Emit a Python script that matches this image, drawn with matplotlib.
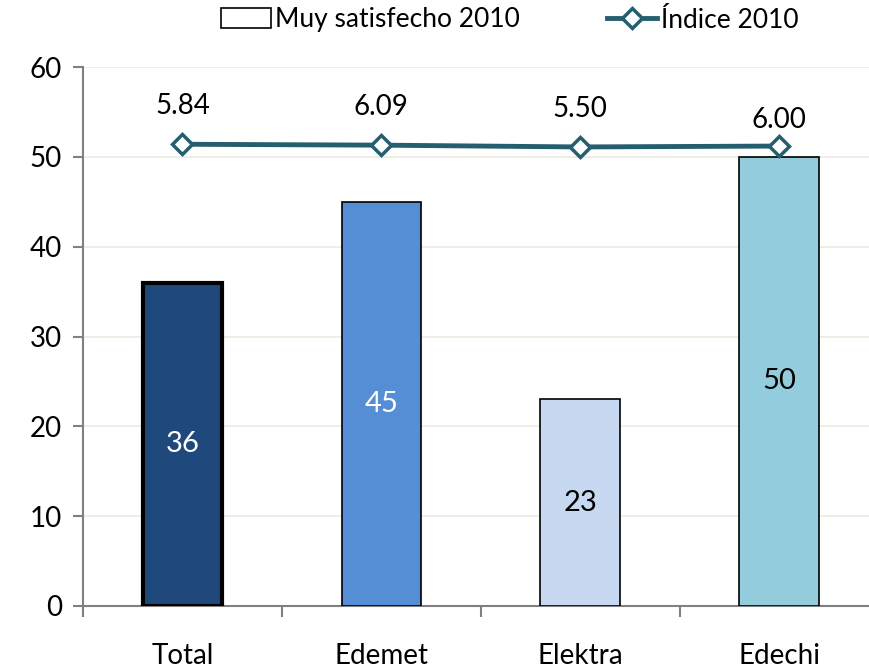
import matplotlib
matplotlib.use("Agg")
import matplotlib.pyplot as plt
from matplotlib.lines import Line2D
from matplotlib.patches import Patch
import numpy as np

categories = ["Total", "Edemet", "Elektra", "Edechi"]
muy_satisfecho = [36, 45, 23, 50]
indice_labels = [5.84, 6.09, 5.50, 6.00]
indice_pos = [51.4, 51.3, 51.1, 51.2]
bar_colors = ["#1F497D", "#558ED5", "#C6D9F1", "#93CDDD"]
bar_text_colors = ["white", "white", "black", "black"]
y_ticks = [0, 10, 20, 30, 40, 50, 60]

plt.rcParams['font.family'] = ['Lato', 'DejaVu Sans']
FS = 20

fig = plt.figure(figsize=(8.70, 6.68), dpi=100)
ax = fig.add_axes([83/870, 62/668, (878.5-83)/870, (606-67)/668])

x = np.arange(len(categories))
lws = [3, 1.2, 1.2, 1.2]
for i in range(len(categories)):
    ax.bar(x[i], muy_satisfecho[i], width=0.4, color=bar_colors[i],
           edgecolor="black", linewidth=lws[i], zorder=3)
    ax.text(x[i], muy_satisfecho[i] / 2, str(muy_satisfecho[i]), ha="center",
            va="center", fontsize=FS + 1, color=bar_text_colors[i], zorder=5)

line_color = "#255E6E"
ax.plot(x, indice_pos, color=line_color, linewidth=3.5, marker="D",
        markersize=10, markerfacecolor="white", markeredgecolor=line_color,
        markeredgewidth=2.5, zorder=4)
label_offsets = [38, 38, 38, 26]
for i in range(len(categories)):
    ax.annotate(f"{indice_labels[i]:.2f}", (x[i], indice_pos[i]),
                xytext=(0, label_offsets[i]), textcoords="offset pixels",
                ha="center", va="center", fontsize=FS, color="black")

ax.set_ylim(0, 60)
ax.set_xlim(-0.5, 3.5)
ax.set_yticks(y_ticks)
ax.yaxis.grid(True, color="#EEEAE0", linewidth=1.2, zorder=0)
ax.set_axisbelow(True)
ax.tick_params(axis="y", labelsize=FS, length=7, color="#808080", width=1.5, pad=8)

ax.set_xticks(x)
ax.set_xticklabels(categories)
ax.set_xticks(np.arange(-0.5, 4, 1.0), minor=True)
ax.tick_params(axis="x", which="major", length=0, labelsize=FS, pad=27)
ax.tick_params(axis="x", which="minor", length=8, color="#808080", width=1.5)

for s in ["top", "right"]:
    ax.spines[s].set_visible(False)
for s in ["left", "bottom"]:
    ax.spines[s].set_color("#808080")
    ax.spines[s].set_linewidth(1.5)

handles = [
    Patch(facecolor="white", edgecolor="black", linewidth=1.2, label="Muy satisfecho 2010"),
    Line2D([0], [0], color=line_color, linewidth=3.5, marker="D", markersize=10,
           markerfacecolor="white", markeredgecolor=line_color, markeredgewidth=2.5,
           label="Índice 2010"),
]
fig.legend(handles=handles, loc="center", bbox_to_anchor=(510/870, 1 - 20/668),
           ncol=2, frameon=False, fontsize=19, handlelength=1.9, handleheight=0.8,
           columnspacing=3.3, handletextpad=0.15)

fig.savefig("out.png", dpi=100)
